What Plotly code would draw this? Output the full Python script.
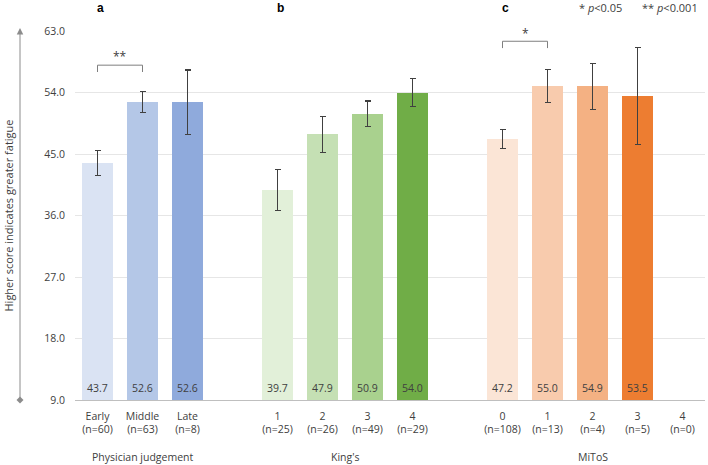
import plotly.graph_objects as go

# ---- data ----
groups = ["Physician judgement", "King's", "MiToS"]
pj_labels = ["Early", "Middle", "Late"]
pj_n = [60, 63, 8]
pj_mean = [43.7, 52.6, 52.6]
pj_err = [1.8, 1.5, 4.7]

kings_labels = ["1", "2", "3", "4"]
kings_n = [25, 26, 49, 29]
kings_mean = [39.7, 47.9, 50.9, 54.0]
kings_err = [3.0, 2.65, 1.85, 2.05]

mitos_labels = ["0", "1", "2", "3", "4"]
mitos_n = [108, 13, 4, 5, 0]
mitos_mean = [47.2, 55.0, 54.9, 53.5, None]
mitos_err = [1.4, 2.4, 3.4, 7.1, None]

y_ticks = [9.0, 18.0, 27.0, 36.0, 45.0, 54.0, 63.0]

# significance: (group index, bar i, bar j, bracket level, star level, stars)
sig = [(0, 0, 1, 58.0, 59.2, "**"), (2, 0, 1, 61.5, 62.7, "*")]

# ---- styling ----
pj_colors = ["#dae3f3", "#b4c7e7", "#8faadc"]
kings_colors = ["#e2f0d9", "#c5e0b4", "#a9d18e", "#70ad47"]
mitos_colors = ["#fbe5d6", "#f8cbad", "#f4b183", "#ed7d31", "#c55a11"]
FONT = "Open Sans"
TXT = "#404040"
PW, PH = 630, 369  # plot area size in px

series = [
    (pj_labels, pj_n, pj_mean, pj_err, pj_colors),
    (kings_labels, kings_n, kings_mean, kings_err, kings_colors),
    (mitos_labels, mitos_n, mitos_mean, mitos_err, mitos_colors),
]

fig = go.Figure()
tickvals, ticktext, group_pos, positions = [], [], [], []
pos = 0
for labels, ns, means, errs, cols in series:
    xs = list(range(pos, pos + len(labels)))
    positions.append(xs)
    group_pos.append(sum(xs) / len(xs))
    tickvals += xs
    ticktext += [f"{l}<br>(n={n})" for l, n in zip(labels, ns)]
    fig.add_trace(go.Bar(
        x=xs, y=[m if m is not None else 0 for m in means],
        marker=dict(color=cols[:len(xs)], line=dict(width=0)),
        width=0.67,
        error_y=dict(type="data", array=[e if e is not None else 0 for e in errs],
                     visible=True, color="#404040", thickness=1.1, width=3),
        showlegend=False, hoverinfo="skip",
    ))
    # value labels at the bottom of each bar
    for x, m in zip(xs, means):
        if m is not None:
            fig.add_annotation(x=x, y=y_ticks[0], yshift=12, text=f"{m:.1f}",
                               showarrow=False, yanchor="middle",
                               font=dict(family=FONT, size=10.5, color=TXT))
    pos += len(labels) + 1

# significance brackets
for g, i, j, lvl, slvl, stars in sig:
    x0, x1 = positions[g][i], positions[g][j]
    fig.add_shape(type="path",
                  path=f"M {x0} {lvl-1.0} L {x0} {lvl} L {x1} {lvl} L {x1} {lvl-1.0}",
                  line=dict(color="#7f7f7f", width=1), xref="x", yref="y")
    fig.add_annotation(x=(x0 + x1) / 2, y=slvl, text=stars, showarrow=False,
                       yanchor="middle", font=dict(family=FONT, size=12, color=TXT))

# panel letters
for k, letter in enumerate(["a", "b", "c"]):
    fig.add_annotation(x=positions[k][0] + 0.07, y=1 + 23 / PH, xref="x", yref="paper",
                       text=f"<b>{letter}</b>", showarrow=False, xanchor="center",
                       yanchor="middle",
                       font=dict(family="Liberation Sans", size=12, color="#000000"))

# p-value key
fig.add_annotation(x=11.17, y=1 + 23 / PH, xref="x", yref="paper", xanchor="center",
                   yanchor="middle", text="* <i>p</i><0.05", showarrow=False,
                   font=dict(family=FONT, size=11, color=TXT))
fig.add_annotation(x=12.72, y=1 + 23 / PH, xref="x", yref="paper", xanchor="center",
                   yanchor="middle", text="** <i>p</i><0.001", showarrow=False,
                   font=dict(family=FONT, size=11, color=TXT))

# group labels
for gp, name in zip(group_pos, groups):
    fig.add_annotation(x=gp, y=-57 / PH, xref="x", yref="paper", text=name,
                       showarrow=False, yanchor="middle",
                       font=dict(family=FONT, size=10.5, color=TXT))

# y-axis title with arrow
fig.add_annotation(x=-67 / PW, y=0.5, xref="paper", yref="paper", textangle=-90,
                   xanchor="center", yanchor="middle",
                   text="Higher score indicates greater fatigue", showarrow=False,
                   font=dict(family=FONT, size=11, color=TXT))
ax_x = -55 / PW
fig.add_annotation(x=ax_x, y=1 + 3 / PH, xref="paper", yref="paper",
                   ax=0, ay=PH + 3, axref="pixel", ayref="pixel",
                   showarrow=True, arrowhead=2, arrowsize=1.3, arrowwidth=1,
                   arrowcolor="#8c8c8c", text="")
dx, dy = 3.5 / PW, 3.5 / PH
fig.add_shape(type="path", xref="paper", yref="paper",
              path=f"M {ax_x-dx} 0 L {ax_x} {dy} L {ax_x+dx} 0 L {ax_x} {-dy} Z",
              fillcolor="#8c8c8c", line=dict(width=0))

fig.update_layout(
    width=708, height=465,
    margin=dict(l=75, r=3, t=31, b=65),
    plot_bgcolor="white", paper_bgcolor="white",
    bargap=0,
    font=dict(family=FONT, size=11, color=TXT),
)
fig.update_xaxes(range=[-0.5, pos - 1.5], tickvals=tickvals, ticktext=ticktext,
                 showgrid=False, showline=True, linecolor="#bfbfbf", linewidth=1,
                 ticks="", tickfont=dict(family=FONT, size=10.5, color=TXT),
                 zeroline=False, ticklabelstandoff=6)
fig.update_yaxes(range=[9, 63], tickvals=y_ticks,
                 ticktext=[f"{v:.1f}" for v in y_ticks],
                 showgrid=True, gridcolor="#e6e6e6", gridwidth=1,
                 showline=False, zeroline=False, ticks="",
                 tickfont=dict(family=FONT, size=10.5, color=TXT), ticklabelstandoff=9)

fig.write_html("out.html",
               config={"displayModeBar": False},
               post_script="document.body.style.margin='0px';"
                           "document.body.style.overflow='hidden';")
